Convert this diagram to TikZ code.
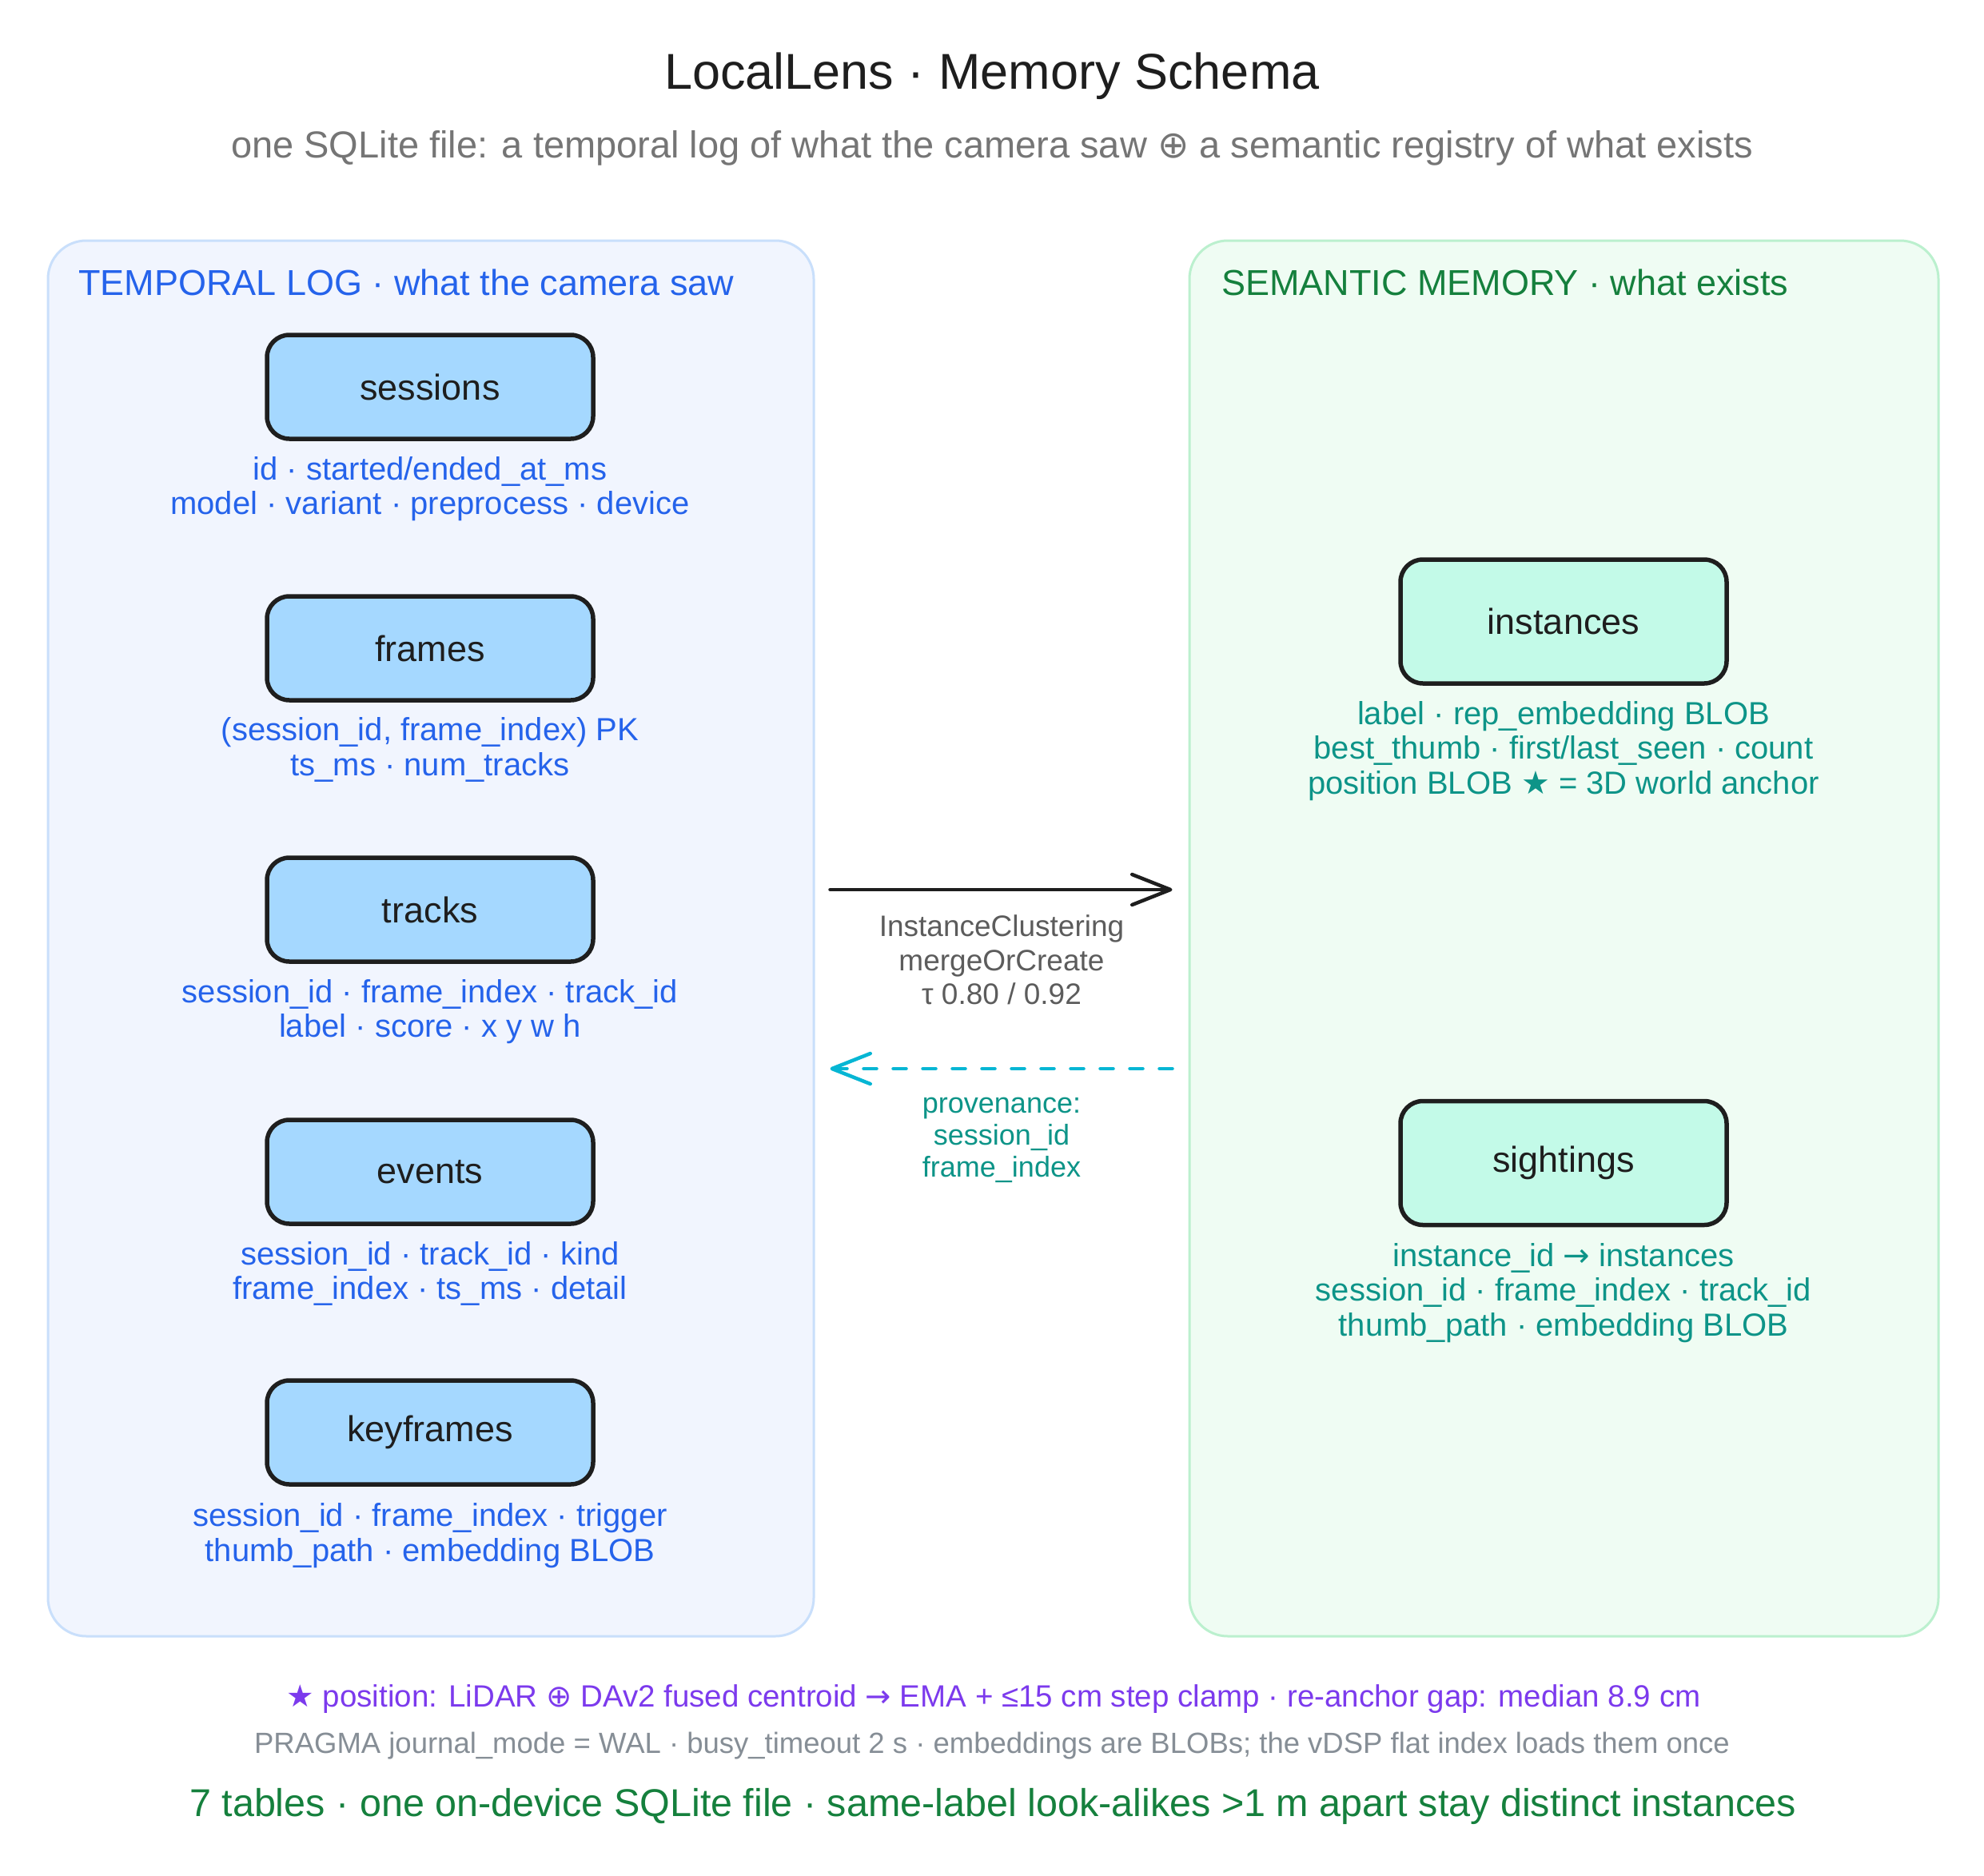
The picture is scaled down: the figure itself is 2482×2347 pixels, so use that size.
\documentclass[tikz,border=0pt]{standalone}
\usepackage{fontspec}
\setmainfont{Liberation Sans}
\newfontfamily\symf{DejaVu Sans}
\usetikzlibrary{arrows.meta}
\definecolor{ink}{HTML}{1E1E1E}
\definecolor{lpfill}{HTML}{F1F5FE}
\definecolor{lpdraw}{HTML}{C9DFFB}
\definecolor{rpfill}{HTML}{EFFCF3}
\definecolor{rpdraw}{HTML}{BBF0CE}
\definecolor{lbfill}{HTML}{A5D8FF}
\definecolor{rbfill}{HTML}{C3FAE8}
\definecolor{blutx}{HTML}{2563EB}
\definecolor{grntx}{HTML}{15803D}
\definecolor{tealtx}{HTML}{0D9488}
\definecolor{grytx}{HTML}{5C5C5C}
\definecolor{subtx}{HTML}{757575}
\definecolor{cyanar}{HTML}{06B6D4}
\definecolor{purtx}{HTML}{7C3AED}
\definecolor{foottx}{HTML}{868E96}
\tikzset{
  txt/.style={inner sep=0pt, align=center},
  titlestyle/.style={txt, text=ink, font=\fontsize{63}{70}\selectfont},
  substyle/.style={txt, text=subtx, font=\fontsize{47}{52}\selectfont},
  lhead/.style={txt, anchor=west, text=blutx, font=\fontsize{45}{50}\selectfont},
  rhead/.style={txt, anchor=west, text=grntx, font=\fontsize{45}{50}\selectfont},
  panel/.style={rectangle, rounded corners=48pt, line width=3pt},
  lpanel/.style={panel, fill=lpfill, draw=lpdraw, minimum width=958pt, minimum height=1746pt},
  rpanel/.style={panel, fill=rpfill, draw=rpdraw, minimum width=937pt, minimum height=1746pt},
  tbl/.style={rectangle, rounded corners=28pt, draw=ink, line width=5.5pt, text=ink,
    minimum width=408pt, font=\fontsize{45}{48}\selectfont},
  lbox/.style={tbl, fill=lbfill, minimum height=130pt},
  rbox/.style={tbl, fill=rbfill, minimum height=155pt},
  lfield/.style={txt, text=blutx, font=\fontsize{40}{43.5}\selectfont},
  rfield/.style={txt, text=tealtx, font=\fontsize{40}{43.5}\selectfont},
  glabel/.style={txt, text=grytx, font=\fontsize{37}{42.5}\selectfont},
  tlabel/.style={txt, text=tealtx, font=\fontsize{36}{40}\selectfont},
  solidarr/.style={draw=ink, line width=4.5pt, line cap=round,
    -{Straight Barb[length=48pt, width=38pt, round]}},
  dasharr/.style={draw=cyanar, line width=4.5pt, line cap=round, dash pattern=on 16pt off 21pt,
    -{Straight Barb[length=48pt, width=38pt, round]}},
}
\begin{document}
\begin{tikzpicture}[x=1pt, y=-1pt]
\useasboundingbox (0,0) rectangle (2482,2347);
\fill[white] (0,0) rectangle (2482,2347);

\node[titlestyle] (title) at (1241,95) {LocalLens · Memory Schema};
\node[substyle] (sub) at (1241,185) {one SQLite file: a temporal log of what the camera saw {\symf ⊕} a semantic registry of what exists};

\node[lpanel] (lp) at (539,1174) {};
\node[rpanel] (rp) at (1956.5,1174) {};

\node[lhead] (lh) at (98,353) {TEMPORAL LOG · what the camera saw};
\node[rhead] (rh) at (1528,353) {SEMANTIC MEMORY · what exists};

\node[lbox] (sessions) at (538,484) {sessions};
\node[lfield] (sessionsF) at (538,611.5) {id · started/ended\_at\_ms\\model · variant · preprocess · device};
\node[lbox] (frames) at (538,811) {frames};
\node[lfield] (framesF) at (538,938) {(session\_id, frame\_index) PK\\ts\_ms · num\_tracks};
\node[lbox] (tracks) at (538,1138) {tracks};
\node[lfield] (tracksF) at (538,1265.5) {session\_id · frame\_index · track\_id\\label · score · x y w h};
\node[lbox] (events) at (538,1466) {events};
\node[lfield] (eventsF) at (538,1593.5) {session\_id · track\_id · kind\\frame\_index · ts\_ms · detail};
\node[lbox] (keyframes) at (538,1792) {keyframes};
\node[lfield] (keyframesF) at (538,1921) {session\_id · frame\_index · trigger\\thumb\_path · embedding BLOB};

\node[rbox] (instances) at (1956,777.5) {instances};
\node[rfield] (instancesF) at (1956,939.5) {label · rep\_embedding BLOB\\best\_thumb · first/last\_seen · count\\position BLOB {\symf ★} = 3D world anchor};
\node[rbox] (sightings) at (1956,1455) {sightings};
\node[rfield] (sightingsF) at (1956,1617.5) {instance\_id {\symf →} instances\\session\_id · frame\_index · track\_id\\thumb\_path · embedding BLOB};

\coordinate (y1) at (0,1113);
\coordinate (y2) at (0,1337);
\draw[solidarr, shorten <=19pt, shorten >=20pt] (lp.east |- y1) -- (rp.west |- y1);
\node[glabel] (clust) at (1253,1201) {InstanceClustering\\mergeOrCreate\\τ 0.80 / 0.92};
\draw[dasharr, shorten <=20pt, shorten >=19pt] (rp.west |- y2) -- (lp.east |- y2);
\node[tlabel] (prov) at (1253,1426) {provenance:\\session\_id\\frame\_index};

\node[txt, text=purtx, font=\fontsize{38.5}{42}\selectfont] (foot1) at (1243,2126) {{\symf ★} position: LiDAR {\symf ⊕} DAv2 fused centroid {\symf →} EMA + ≤15 cm step clamp · re-anchor gap: median 8.9 cm};
\node[txt, text=foottx, font=\fontsize{36.5}{40}\selectfont] (foot2) at (1241,2184) {PRAGMA journal\_mode = WAL · busy\_timeout 2 s · embeddings are BLOBs; the vDSP flat index loads them once};
\node[txt, text=grntx, font=\fontsize{48.5}{52}\selectfont] (foot3) at (1242,2260) {7 tables · one on-device SQLite file · same-label look-alikes >1 m apart stay distinct instances};
\end{tikzpicture}
\end{document}
